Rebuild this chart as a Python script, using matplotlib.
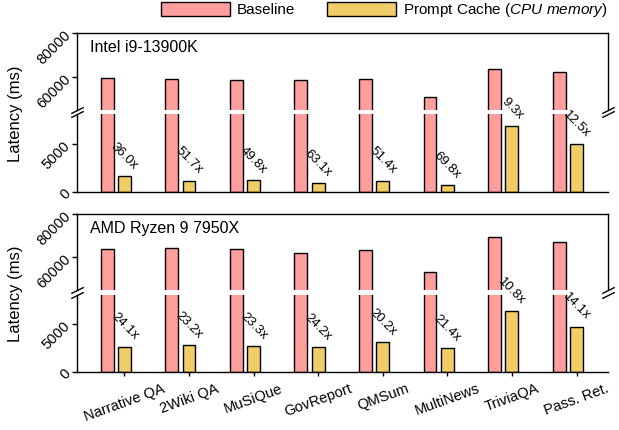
import matplotlib
matplotlib.use("Agg")
import matplotlib.pyplot as plt
import numpy as np
from matplotlib.patches import Patch

plt.rcParams['font.family'] = ['Liberation Sans', 'DejaVu Sans']
plt.rcParams['mathtext.fontset'] = 'custom'
plt.rcParams['mathtext.rm'] = 'Liberation Sans'
plt.rcParams['mathtext.it'] = 'Liberation Sans:italic'

categories = ["Narrative QA", "2Wiki QA", "MuSiQue", "GovReport", "QMSum",
              "MultiNews", "TriviaQA", "Pass. Ret."]
intel_baseline = [59500, 59200, 58900, 58500, 59100, 50800, 63900, 62300]
intel_cache = [1650, 1150, 1180, 930, 1150, 730, 6870, 4980]
intel_speedup = ["36.0x", "51.7x", "49.8x", "63.1x", "51.4x", "69.8x", "9.3x", "12.5x"]
amd_baseline = [63700, 64200, 63900, 62200, 63400, 53300, 69400, 67100]
amd_cache = [2640, 2770, 2740, 2570, 3140, 2490, 6430, 4760]
amd_speedup = ["24.1x", "23.2x", "23.3x", "24.2x", "20.2x", "21.4x", "10.8x", "14.1x"]
panel_titles = ["Intel i9-13900K", "AMD Ryzen 9 7950X"]
top_ticks = [60000, 80000]
bottom_ticks = [0, 5000]

C_BASE = "#FF9E9C"
C_CACHE = "#F0CD66"
W, H = 619, 430
fig = plt.figure(figsize=(W / 100, H / 100), dpi=100)

left_px, right_px = 77.3, 607.5
panels = [
    (33.3, 110.0, 114.0, 191.7),
    (214.0, 290.0, 295.0, 371.7),
]
data = [(intel_baseline, intel_cache, intel_speedup),
        (amd_baseline, amd_cache, amd_speedup)]

x = np.arange(len(categories))
bw = 0.2
off = 0.268
xlim = (-0.73, 7.48)


def ax_at(t, b):
    return fig.add_axes([left_px / W, 1 - b / H, (right_px - left_px) / W, (b - t) / H])


def style_yticks(ax):
    for lbl in ax.get_yticklabels():
        lbl.set_rotation(45)
        lbl.set_rotation_mode('anchor')
        lbl.set_ha('right')
        lbl.set_va('center')


for pi, ((tt, tb, bt, bb), (base, cache, spd)) in enumerate(zip(panels, data)):
    axt = ax_at(tt, tb)
    axb = ax_at(bt, bb)
    for ax in (axt, axb):
        ax.bar(x - off, base, bw, color=C_BASE, edgecolor='black', linewidth=1.0, zorder=2)
        ax.bar(x, cache, bw, color=C_CACHE, edgecolor='black', linewidth=1.0, zorder=2)
        ax.set_xlim(*xlim)
        ax.tick_params(axis='y', direction='out', length=3.5, width=1, labelsize=10.5, pad=3)
        for s in ax.spines.values():
            s.set_linewidth(1.0)
    axt.set_ylim(45000, 80000)
    axb.set_ylim(0, 8100)
    axt.set_yticks(top_ticks)
    axb.set_yticks(bottom_ticks)
    style_yticks(axt)
    style_yticks(axb)
    axt.spines['bottom'].set_visible(False)
    axb.spines['top'].set_visible(False)
    axb.spines['right'].set_visible(False)
    axt.set_xticks([])
    if pi == 1:
        axb.set_xticks(x)
        axb.set_xticklabels(categories, rotation=20, ha='center', fontsize=10.5)
        axb.tick_params(axis='x', direction='out', length=3, width=1, pad=4)
    else:
        axb.set_xticks([])
    axb.set_zorder(3)
    axb.patch.set_alpha(0)
    for i in range(len(categories)):
        axb.annotate(spd[i], xy=(x[i], cache[i]), xytext=(0, 3), textcoords='offset points',
                     ha='center', va='bottom', rotation=-45, fontsize=9.5, zorder=5)
    axt.text(0.0245, 0.91, panel_titles[pi], transform=axt.transAxes, ha='left', va='top',
             fontsize=11.5)
    kw = dict(marker=[(-1, -0.5), (1, 0.5)], markersize=9, linestyle='none',
              color='black', mec='black', mew=1, clip_on=False)
    axt.plot([0, 1], [0, 0], transform=axt.transAxes, **kw)
    axb.plot([0, 1], [1, 1], transform=axb.transAxes, **kw)
    fig.text(16 / W, 1 - ((tt + bb) / 2 + 1) / H, "Latency (ms)", rotation=90,
             ha='center', va='center', fontsize=12)

handles = [Patch(facecolor=C_BASE, edgecolor='black', linewidth=1.0),
           Patch(facecolor=C_CACHE, edgecolor='black', linewidth=1.0)]
labels = ["Baseline", "Prompt Cache $\\mathit{(CPU\\ memory)}$"]
leg = fig.legend(handles, labels, loc='upper left', bbox_to_anchor=(161 / W, 1 - 1 / H),
                 frameon=False, ncol=2, fontsize=11, handlelength=4.5, handleheight=1.0,
                 handletextpad=0.45, columnspacing=2.1, borderpad=0, borderaxespad=0)

fig.savefig("out.png", dpi=100)
